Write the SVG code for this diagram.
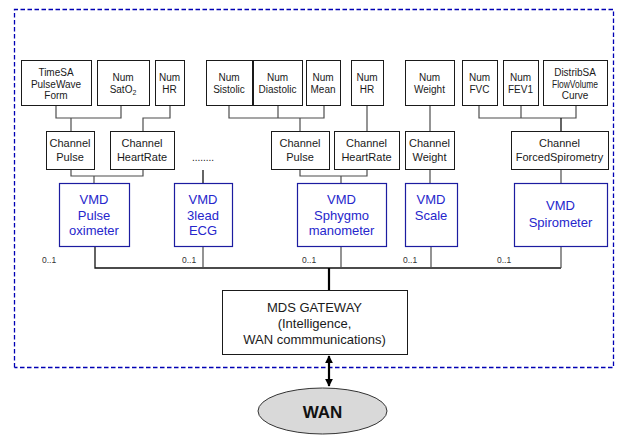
<svg xmlns="http://www.w3.org/2000/svg" width="618" height="435" viewBox="0 0 618 435">
  <style>
    text { font-family: "Liberation Sans", Arial, sans-serif; text-anchor: middle; }
    .box { fill: #ffffff; stroke: #1a1a1a; stroke-width: 1; }
    .vmd { fill: #ffffff; stroke: #1c1ca0; stroke-width: 1.2; }
    .attr { font-size: 10px; fill: #1a1a1a; }
    .chan { font-size: 11px; fill: #1a1a1a; }
    .vmdt { font-size: 13px; fill: #2626cc; }
    .gw { font-size: 13px; fill: #1a1a1a; }
    .mult { font-size: 8.5px; fill: #333333; text-anchor: start; }
    .wire { fill: none; stroke: #4d4d4d; stroke-width: 1.2; }
    .bus { fill: none; stroke: #111111; stroke-width: 1.3; }
    .thick { fill: none; stroke: #000000; stroke-width: 2.2; }
    .boundary { fill: none; stroke: #0000b4; stroke-width: 1.3; stroke-dasharray: 4.5 2.5; }
  </style>
  <defs>
    <marker id="head" viewBox="0 0 10 10" refX="9" refY="5" markerWidth="3.6" markerHeight="3.6" orient="auto-start-reverse">
      <path d="M0,0 L10,5 L0,10 Z" fill="#000000"/>
    </marker>
  </defs>

  <!-- boundary of the home domain -->
  <path class="boundary" d="M14.5,367.5 L14.5,9.5 L613.5,9.5 L613.5,367.5 L14.5,367.5"/>

  <!-- connectors -->
  <g id="connectors">
    <!-- pulse oximeter attributes to channels -->
    <path class="wire" d="M56,105 V118 H121 V105 M71,118 V131"/>
    <path class="wire" d="M170,105 V118 H143 V131"/>
    <path class="wire" d="M71,169 V176 H143 V169 M94,176 V183"/>
    <!-- ECG -->
    <path class="bus" d="M203,170 V183"/>
    <!-- sphygmomanometer -->
    <path class="wire" d="M229,105 V118 H324 V105 M278,105 V118 M300,118 V131"/>
    <path class="wire" d="M367,105 V131"/>
    <path class="wire" d="M300,169 V176 H367 V169 M341,176 V183"/>
    <!-- scale -->
    <path class="wire" d="M430,105 V132 M430,169 V183"/>
    <!-- spirometer -->
    <path class="wire" d="M479,105 V118 H576 V105 M521,105 V118"/>
    <path class="bus" d="M561,118 V131"/>
    <path class="wire" d="M561,169 V183"/>
    <!-- device bus -->
    <path class="bus" d="M95,246 V268 H561"/>
    <path class="wire" d="M203,246 V268 M341,246 V268 M431,246 V268 M561,246 V268"/>
    <path class="thick" d="M329,268 V290"/>
    <!-- WAN link -->
    <line class="thick" x1="329" y1="356" x2="329" y2="386" marker-start="url(#head)" marker-end="url(#head)"/>
    <!-- multiplicities -->
    <text class="mult" x="42" y="263">0..1</text>
    <text class="mult" x="182" y="263">0..1</text>
    <text class="mult" x="302" y="263">0..1</text>
    <text class="mult" x="403" y="263">0..1</text>
    <text class="mult" x="497" y="263">0..1</text>
  </g>

  <!-- attribute objects -->
  <g id="timesa-pulsewave">
    <rect class="box" x="21.5" y="60.5" width="70" height="45"/>
    <text class="attr" x="56" y="76">TimeSA</text>
    <text class="attr" x="56" y="87.5">PulseWave</text>
    <text class="attr" x="56" y="99">Form</text>
  </g>
  <g id="num-sato2">
    <rect class="box" x="97.5" y="60.5" width="52" height="45"/>
    <text class="attr" x="123" y="81">Num</text>
    <text class="attr" x="123" y="93">SatO<tspan font-size="7" dy="2">2</tspan></text>
  </g>
  <g id="num-hr-1">
    <rect class="box" x="155.5" y="60.5" width="29" height="45"/>
    <text class="attr" x="169.5" y="81">Num</text>
    <text class="attr" x="169.5" y="93">HR</text>
  </g>
  <g id="num-sistolic">
    <rect class="box" x="206.5" y="60.5" width="46" height="45"/>
    <text class="attr" x="229" y="81">Num</text>
    <text class="attr" x="229" y="93">Sistolic</text>
  </g>
  <g id="num-diastolic">
    <rect class="box" x="253.5" y="60.5" width="49" height="45"/>
    <text class="attr" x="277.5" y="81">Num</text>
    <text class="attr" x="277.5" y="93">Diastolic</text>
  </g>
  <g id="num-mean">
    <rect class="box" x="306.5" y="60.5" width="34" height="45"/>
    <text class="attr" x="323" y="81">Num</text>
    <text class="attr" x="323" y="93">Mean</text>
  </g>
  <g id="num-hr-2">
    <rect class="box" x="351.5" y="60.5" width="32" height="45"/>
    <text class="attr" x="367" y="81">Num</text>
    <text class="attr" x="367" y="93">HR</text>
  </g>
  <g id="num-weight">
    <rect class="box" x="405.5" y="60.5" width="49" height="45"/>
    <text class="attr" x="429.5" y="81">Num</text>
    <text class="attr" x="429.5" y="93">Weight</text>
  </g>
  <g id="num-fvc">
    <rect class="box" x="462.5" y="60.5" width="35" height="45"/>
    <text class="attr" x="479.5" y="81">Num</text>
    <text class="attr" x="479.5" y="93">FVC</text>
  </g>
  <g id="num-fev1">
    <rect class="box" x="503.5" y="60.5" width="35" height="45"/>
    <text class="attr" x="520.5" y="81">Num</text>
    <text class="attr" x="520.5" y="93">FEV1</text>
  </g>
  <g id="distribsa-flowvolume">
    <rect class="box" x="543.5" y="60.5" width="64" height="45"/>
    <text class="attr" x="575" y="76">DistribSA</text>
    <text class="attr" x="575" y="87.5" textLength="46" lengthAdjust="spacingAndGlyphs">FlowVolume</text>
    <text class="attr" x="575" y="99">Curve</text>
  </g>

  <!-- channels -->
  <g id="channel-pulse-1">
    <rect class="box" x="46.5" y="131.5" width="48" height="38"/>
    <text class="chan" x="70" y="146.5">Channel</text>
    <text class="chan" x="70" y="161">Pulse</text>
  </g>
  <g id="channel-heartrate-1">
    <rect class="box" x="110.5" y="131.5" width="64" height="38"/>
    <text class="chan" x="142" y="146.5">Channel</text>
    <text class="chan" x="142" y="161">HeartRate</text>
  </g>
  <g id="ecg-channels">
    <text class="attr" x="203" y="161">........</text>
  </g>
  <g id="channel-pulse-2">
    <rect class="box" x="271.5" y="131.5" width="58" height="38"/>
    <text class="chan" x="300" y="146.5">Channel</text>
    <text class="chan" x="300" y="161">Pulse</text>
  </g>
  <g id="channel-heartrate-2">
    <rect class="box" x="334.5" y="131.5" width="65" height="38"/>
    <text class="chan" x="366.5" y="146.5">Channel</text>
    <text class="chan" x="366.5" y="161">HeartRate</text>
  </g>
  <g id="channel-weight">
    <rect class="box" x="405.5" y="131.5" width="49" height="38"/>
    <text class="chan" x="429.5" y="146.5">Channel</text>
    <text class="chan" x="429.5" y="161">Weight</text>
  </g>
  <g id="channel-forcedspirometry">
    <rect class="box" x="511.5" y="131.5" width="97" height="38"/>
    <text class="chan" x="559.5" y="146.5">Channel</text>
    <text class="chan" x="559.5" y="161">ForcedSpirometry</text>
  </g>

  <!-- virtual medical devices -->
  <g id="vmd-pulse-oximeter">
    <rect class="vmd" x="59.5" y="183.5" width="70" height="63"/>
    <text class="vmdt" x="94" y="204">VMD</text>
    <text class="vmdt" x="94" y="219.5">Pulse</text>
    <text class="vmdt" x="94" y="235">oximeter</text>
  </g>
  <g id="vmd-3lead-ecg">
    <rect class="vmd" x="174.5" y="183.5" width="58" height="63"/>
    <text class="vmdt" x="203" y="204">VMD</text>
    <text class="vmdt" x="203" y="219.5">3lead</text>
    <text class="vmdt" x="203" y="235">ECG</text>
  </g>
  <g id="vmd-sphygmomanometer">
    <rect class="vmd" x="297.5" y="183.5" width="89" height="63"/>
    <text class="vmdt" x="341.5" y="204">VMD</text>
    <text class="vmdt" x="341.5" y="219.5">Sphygmo</text>
    <text class="vmdt" x="341.5" y="235">manometer</text>
  </g>
  <g id="vmd-scale">
    <rect class="vmd" x="405.5" y="183.5" width="52" height="63"/>
    <text class="vmdt" x="431" y="204">VMD</text>
    <text class="vmdt" x="431" y="219.5">Scale</text>
  </g>
  <g id="vmd-spirometer">
    <rect class="vmd" x="514.5" y="183.5" width="93" height="63"/>
    <text class="vmdt" x="560.5" y="210">VMD</text>
    <text class="vmdt" x="560.5" y="227">Spirometer</text>
  </g>

  <!-- gateway -->
  <g id="mds-gateway">
    <rect class="box" x="222.5" y="290.5" width="185" height="64"/>
    <text class="gw" x="314.5" y="312">MDS GATEWAY</text>
    <text class="gw" x="314.5" y="327.5">(Intelligence,</text>
    <text class="gw" x="314.5" y="343.5">WAN commmunications)</text>
  </g>

  <!-- wide area network -->
  <g id="wan">
    <ellipse cx="322.5" cy="411" rx="64.5" ry="23" fill="#d9d9d9" stroke="#333333" stroke-width="1"/>
    <text x="322.5" y="418" font-size="17" font-weight="bold" fill="#111111">WAN</text>
  </g>
</svg>
